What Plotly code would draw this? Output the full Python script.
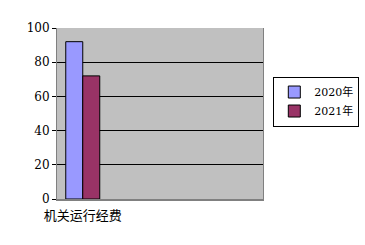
import plotly.graph_objects as go

categories = ["机关运行经费"]
series_names = ["2020年", "2021年"]
values_2020 = [92]
values_2021 = [72]
colors = ["#9999FF", "#993366"]
y_ticks = [0, 20, 40, 60, 80, 100]

fig = go.Figure()
for name, vals, col in zip(series_names, [values_2020, values_2021], colors):
    fig.add_trace(go.Bar(
        x=list(range(len(categories))), y=vals, name=name,
        marker=dict(color=col, line=dict(color="#000000", width=1)),
    ))

fig.update_layout(
    width=365, height=245,
    margin=dict(l=57, r=102, t=28, b=46, autoexpand=False),
    paper_bgcolor="white", plot_bgcolor="#C0C0C0",
    barmode="group", bargap=0.34, bargroupgap=0.0,
    font=dict(family="DejaVu Serif, Noto Sans CJK SC", size=12, color="black"),
    showlegend=True,
    legend=dict(
        x=1.05, y=0.57, xanchor="left", yanchor="middle",
        bgcolor="white", bordercolor="black", borderwidth=1,
        font=dict(family="DejaVu Serif, Noto Sans CJK SC", size=11),
        itemwidth=30, tracegroupgap=2,
    ),
    xaxis=dict(
        range=[-0.5, 3.5], tickvals=list(range(len(categories))), ticktext=categories,
        showgrid=False, zeroline=False, showline=True, linecolor="#808080", linewidth=2,
        ticks="", tickfont=dict(family="Noto Sans CJK SC", size=13),
        ticklabelstandoff=3, mirror=False,
    ),
    yaxis=dict(
        range=[0, 100], tickvals=y_ticks, showgrid=True, gridcolor="black", gridwidth=1,
        zeroline=False, showline=True, linecolor="#808080", linewidth=1,
        ticks="outside", ticklen=4, tickcolor="black", mirror=True,
    ),
)
fig.write_html("out.html")
